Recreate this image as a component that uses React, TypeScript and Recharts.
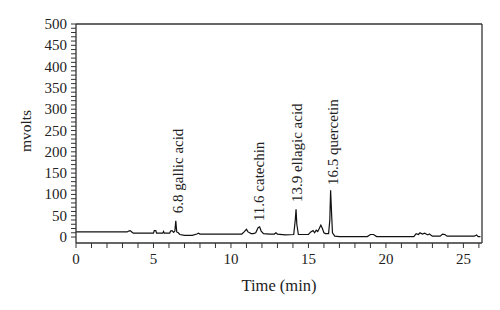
import { LineChart, Line, XAxis, YAxis, ReferenceDot, ReferenceLine } from "recharts";

// retention time (min) and detector signal (mV)
const times = [
  0, 3.3, 3.4, 3.5, 3.6, 3.7, 5.0, 5.05, 5.15, 5.2, 5.6, 5.65, 5.7, 6.05, 6.1, 6.2, 6.3, 6.38, 6.44, 6.5,
  6.6, 6.7, 7.0, 7.5, 7.8, 7.9, 8.0, 8.5, 10.7, 10.85, 11.0, 11.1, 11.2, 11.3, 11.45, 11.6, 11.75, 11.85,
  11.95, 12.1, 12.5, 12.8, 12.9, 13.0, 13.5, 14.05, 14.15, 14.2, 14.25, 14.35, 15.0, 15.15, 15.3, 15.4,
  15.5, 15.6, 15.7, 15.8, 15.9, 16.0, 16.1, 16.3, 16.38, 16.43, 16.5, 16.55, 16.7, 17.0, 18.8, 19.0, 19.2,
  19.4, 21.8, 21.95, 22.1, 22.2, 22.35, 22.5, 22.7, 22.8, 23.0, 23.5, 23.65, 23.8, 23.95, 25.7, 25.85,
  25.95, 26.1,
];
const mvolts = [
  12, 12, 14, 15, 12, 9, 9, 15, 15, 9, 9, 13, 9, 9, 14, 15, 11, 14, 38, 12,
  10, 6, 4, 4, 7, 9, 7, 7, 7, 12, 18, 12, 10, 8, 8, 10, 22, 24,
  14, 8, 7, 7, 10, 7, 5, 6, 40, 65, 30, 6, 6, 12, 15, 10,
  16, 13, 20, 28, 20, 10, 8, 8, 40, 110, 50, 10, 2, 1, 1, 6, 6,
  1, 1, 8, 6, 10, 7, 9, 5, 7, 2, 2, 7, 6, 2, 2, 5,
  1, 1,
];

const peakNames = ["6.8 gallic acid", "11.6 catechin", "13.9 ellagic acid", "16.5 quercetin"];
const peakLabelTimes = [6.57, 11.79, 14.24, 16.56];
const peakLabelBases = [56, 37.5, 82, 122];

const X_MAX = 26.2;
const Y_MIN = -14;
const Y_MAX = 500;
const xTicks = Array.from({ length: 27 }, (_, i) => i);
const yTicks = Array.from({ length: 51 }, (_, i) => i * 10);

const data = times.map((t, i) => ({ t, v: mvolts[i] }));

const FONT = "'Liberation Serif', 'DejaVu Serif', serif";
const INK = "#333";

const XTick = ({ x, y, payload }: any) =>
  payload.value % 5 === 0 ? (
    <text x={x} y={y} dy={16} textAnchor="middle" fill="#222" fontSize={15} fontFamily={FONT}>
      {payload.value}
    </text>
  ) : null;

const YTick = ({ x, y, payload }: any) =>
  payload.value % 50 === 0 ? (
    <text x={x} y={y} dx={-4} dy={5} textAnchor="end" fill="#222" fontSize={15} fontFamily={FONT}>
      {payload.value}
    </text>
  ) : null;

const PeakLabel = (text: string) => (props: any) => {
  const { viewBox } = props;
  const cx = viewBox.x + (viewBox.width || 0) / 2;
  const cy = viewBox.y + (viewBox.height || 0) / 2;
  return (
    <text
      x={cx}
      y={cy}
      transform={`rotate(-90 ${cx} ${cy})`}
      textAnchor="start"
      dominantBaseline="central"
      fill="#222"
      fontSize={15}
      fontFamily={FONT}
    >
      {text}
    </text>
  );
};

export default function App() {
  return (
    <div style={{ position: "absolute", left: 0, top: 0, width: 500, height: 310, background: "#fff" }}>
      <LineChart width={500} height={310} data={data} margin={{ top: 24, right: 18, bottom: 0, left: 0 }}>
        <XAxis
          dataKey="t"
          type="number"
          domain={[0, X_MAX]}
          ticks={xTicks}
          interval={0}
          height={67}
          tickSize={5}
          tickMargin={0}
          tick={<XTick />}
          stroke={INK}
          axisLine={{ stroke: INK, strokeWidth: 1.3 }}
          tickLine={{ stroke: INK }}
          label={{ value: "Time (min)", position: "insideBottom", offset: 19, fontSize: 16.5, fontFamily: FONT, fill: "#222" }}
        />
        <YAxis
          type="number"
          domain={[Y_MIN, Y_MAX]}
          ticks={yTicks}
          interval={0}
          width={76}
          tickSize={5}
          tickMargin={0}
          tick={<YTick />}
          axisLine={{ stroke: INK, strokeWidth: 1.3 }}
          tickLine={{ stroke: INK }}
          label={{
            content: () => (
              <text x={25} y={131} transform="rotate(-90 25 131)" textAnchor="middle" dominantBaseline="central" fill="#222" fontSize={15.5} fontFamily={FONT}>
                mvolts
              </text>
            ),
          }}
        />
        {/* frame: top and right edges */}
        <ReferenceLine y={Y_MAX} stroke={INK} strokeWidth={1.3} />
        <ReferenceLine x={X_MAX} stroke={INK} strokeWidth={1.3} />
        <Line type="linear" dataKey="v" stroke="#111" strokeWidth={1.2} dot={false} isAnimationActive={false} />
        {peakNames.map((name, i) => (
          <ReferenceDot
            key={name}
            x={peakLabelTimes[i]}
            y={peakLabelBases[i]}
            r={0}
            fill="none"
            stroke="none"
            label={{ content: PeakLabel(name) }}
          />
        ))}
      </LineChart>
    </div>
  );
}
